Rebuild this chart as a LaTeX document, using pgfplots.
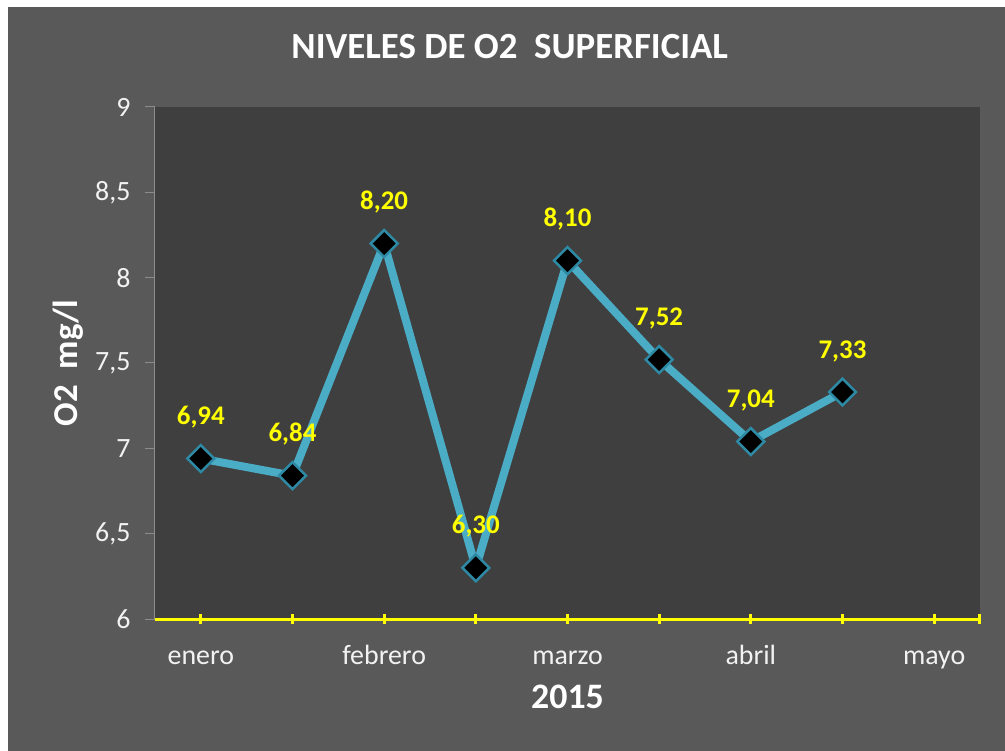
\documentclass[border=0pt]{standalone}
\usepackage{fontspec}
\setmainfont{Carlito}
\usepackage{pgfplots}
\pgfplotsset{compat=1.18}
\definecolor{outerbg}{HTML}{595959}
\definecolor{plotbg}{HTML}{3F3F3F}
\definecolor{serie}{HTML}{4BACC6}
\definecolor{mkborder}{HTML}{2E8AA4}
\definecolor{axgray}{HTML}{8C8C8C}
\definecolor{lbl}{HTML}{FFFF00}
\definecolor{txt}{HTML}{F2F2F2}

\begin{document}
\begin{tikzpicture}
% image frame: white strip top/left, dark grey chart area
\fill[white] (-155bp,-132bp) rectangle (850bp,619bp);
\fill[outerbg] (-147bp,-132bp) rectangle (850bp,612bp);
\begin{axis}[
    at={(0,0)}, anchor=south west,
    scale only axis,
    width=825bp, height=512bp,
    xmin=0.5, xmax=9.5,
    ymin=6, ymax=9,
    clip=false,
    axis background/.style={fill=plotbg},
    axis x line*=bottom, axis y line*=left,
    axis line style={-},
    x axis line style={lbl, line width=3bp},
    y axis line style={axgray, line width=1bp},
    xtick={1,...,9},
    xticklabels={enero,,febrero,,marzo,,abril,,mayo},
    extra x ticks={9.5}, extra x tick labels={},
    ytick={6,6.5,...,9},
    major tick length=10bp,
    xtick align=center, ytick align=outside,
    x tick style={lbl, line width=3bp},
    y tick style={axgray, line width=1bp},
    ticklabel style={font=\fontsize{28}{28}\selectfont, text=txt},
    yticklabel style={xshift=-11bp, /pgf/number format/.cd, use comma, assume math mode=true},
    xticklabel style={anchor=base, yshift=-40bp},
    xticklabel shift=0pt,
    title={NIVELES DE O2\ \ SUPERFICIAL},
    title style={at={(rel axis cs:0.43,1.107)}, anchor=center,
                 font=\fontsize{37}{37}\selectfont\bfseries, text=white},
    xlabel={2015},
    xlabel style={at={(rel axis cs:0.5,-0.152)}, anchor=center,
                  font=\fontsize{36}{36}\selectfont\bfseries, text=white},
    ylabel={O2\ \ mg/l},
    ylabel style={at={(rel axis cs:-0.105,0.5)}, anchor=center, rotate=0,
                  font=\fontsize{35}{35}\selectfont\bfseries, text=white},
    point meta=explicit symbolic,
    nodes near coords,
    every node near coord/.append style={font=\fontsize{27}{27}\selectfont\bfseries,
        text=lbl, inner sep=0pt, yshift=29bp},
]
\addplot[serie, line width=8bp, mark=square*,
    mark options={rotate=45, fill=black, draw=mkborder, line width=2.5bp},
    mark size=9.5bp]
  coordinates {
    (1,6.94) [6,94]
    (2,6.84) [6,84]
    (3,8.20) [8,20]
    (4,6.30) [6,30]
    (5,8.10) [8,10]
    (6,7.52) [7,52]
    (7,7.04) [7,04]
    (8,7.33) [7,33]
  };
\end{axis}
\pgfresetboundingbox
\useasboundingbox (-155bp,-132bp) rectangle (850bp,619bp);
\end{tikzpicture}
\end{document}
